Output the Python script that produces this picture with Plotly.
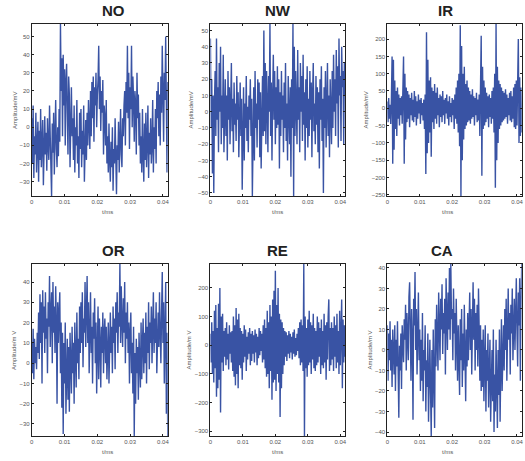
import plotly.graph_objects as go

fs = 4800  # samples per second

names = ["NO", "NW", "IR", "OR", "RE", "CA"]

no = [5, -20, 12, -28, -5, -15, 8, -25, -10, 3, -30, -2, -18, 10, -22, -8, 4, -32, -12, 6,
      -15, -3, -24, 5, -10, -18, 12, -6, -20, -38, 2, -14, 8, -26, -4, 15, -12, -22, 0, -16,
      10, -8, 57, 20, 38, -5, 40, 12, 32, -10, 25, 35, 8, -15, 28, 18, -22, 10, 22, -5,
      5, -18, 12, -25, 0, -10, 15, -20, -5, -28, 8, -12, 10, -22, -2, -15, 12, -30, -6, 4,
      -18, 8, -10, 15, 2, -12, 20, -5, 25, 5, 28, -8, 22, 12, 30, 0, 18, 26, 45, 10,
      28, -2, 20, 8, 26, -15, 12, 5, -10, 15, -20, -5, -25, 2, -18, -30, -8, -22, 0, -35,
      -12, -20, 5, -28, -37, -10, -18, 3, -25, -8, 10, -15, -22, 5, -5, 12, 20, -10, 25, 8,
      45, 5, 30, -12, 22, 10, 45, 0, 28, 15, -8, 20, 12, -15, 30, 5, 18, -10, 8, -20,
      -5, -25, 10, -15, -30, 2, -18, 8, -22, -8, 12, -28, -3, -15, 5, -20, -10, 15, -25, 0,
      -12, 10, -20, 20, 5, 25, -5, 18, -10, 28, 8, 45, 12, -8, 30, 15, 50, 20, -25, 25]

nw = [45, -10, 20, -38, 10, -50, 5, 25, -15, 45, -5, 15, -25, 30, 0, 40, -20, 10, -10, 35,
      -25, 5, 20, -15, 10, -30, 25, -5, 15, -20, 0, 30, -12, 8, -25, 18, -8, 5, -18, 22,
      -5, 12, -28, 2, 18, -15, 8, -48, 0, 15, -30, 5, -10, 22, -18, 3, -25, 10, -5, 20,
      -15, 8, -52, -20, 15, -30, 25, -10, 5, -22, 20, -5, 18, -28, 12, -35, 2, 22, -15, 50,
      -12, 30, -20, 25, 5, -25, 22, 0, 54, -15, 18, -30, 10, 35, -5, 25, -20, 15, -10, 28,
      -8, 20, -35, 12, -15, 25, -5, 10, -25, 18, -10, 30, -18, 5, -30, 22, 0, -20, 15, -40,
      20, -10, 54, -52, 40, -15, 25, 5, -20, 38, -5, 15, -25, 30, 0, 22, -18, 35, -8, 12,
      -30, 20, -10, 28, -22, 8, -15, 25, -5, 18, -28, 10, 30, -12, 5, -20, 22, -8, 15, -25,
      12, -35, 20, -5, 28, -18, 8, -50, 15, -10, 25, -22, 5, 30, -15, 10, -28, 20, 0, -20,
      25, -10, 35, 0, 20, -15, 38, 5, 28, -22, 45, 10, 22, -18, 40, 15, 25, -20, 30, 10]

ir = [20, -40, 30, -30, 10, -45, 25, 150, -160, 140, -120, 80, -60, 50, -80, 60, -30, 40, -50, 30,
      -20, 35, -45, 60, 150, -160, 100, -90, 60, -40, 50, -30, 40, -55, 30, -20, 45, -35, 25, -40,
      50, -25, 35, -50, 20, -30, 40, -15, 25, -45, 30, -20, 15, -35, 25, -60, 40, -190, 220, -130,
      140, -100, 80, -70, 90, -140, 60, -40, 50, -60, 70, -30, 45, -45, 60, -20, 30, -55, 40, -25,
      35, -40, 50, -20, 25, -45, 30, -15, 40, -30, 20, -50, 35, -25, 15, -40, 30, -20, 25, -60,
      40, -30, 60, -45, 80, -70, 100, -110, 240, -254, 180, -150, 100, -90, 120, -60, 70, -50, 80, -40,
      60, -35, 50, -45, 40, -30, 55, -25, 35, -50, 30, -20, 45, -40, 25, -35, 40, -80, 100, 210,
      -195, 120, -60, 80, -50, 60, -40, 45, -30, 35, -55, 40, -25, 30, -45, 50, -30, 60, -70, 100,
      -230, 244, -150, 120, -100, 80, -60, 70, -50, 60, -40, 50, -35, 45, -30, 55, -25, 40, -45, 30,
      -20, 45, -35, 50, -40, 35, -30, 60, -55, 70, -60, 80, -50, 120, 200, -100, 90, -80, 60, -70]

orr = [10, -5, 17, -8, 12, 0, 8, -3, 15, 5, 25, 2, 34, 10, 30, -10, 36, 15, 28, 5,
       35, 12, 22, -5, 30, 18, 43, 8, 25, 35, 0, 40, 15, 28, 5, 38, 20, -20, 30, 10,
       25, 35, -5, 20, -22, 15, -35, 10, -10, 20, -25, 5, 12, -18, 8, -24, 15, 0, -15, 18,
       -5, 10, -20, 20, 3, -12, 25, 0, 12, -8, 28, 5, 30, 10, 35, -2, 22, 15, 40, 8,
       25, 43, 10, 30, -5, 20, 35, 5, 18, -10, 25, 12, 32, 0, 20, -15, 15, 28, -8, 22,
       10, -12, 18, 5, 25, -5, 15, 22, 0, 18, -8, 12, 20, -10, 15, 25, 5, 18, -5, 28,
       10, 22, -3, 30, 15, 35, 5, 25, 18, 49, 10, 38, 20, 8, 32, 15, 40, 0, 25, 12,
       30, 5, 20, -10, 15, 25, -5, 10, -15, 18, -36, 5, -20, 12, -5, 8, -18, 15, 0, -12,
       20, -8, 10, 22, -5, 15, 0, 25, -10, 18, 5, 30, -3, 20, 10, 28, 0, 15, 35, 5,
       22, 10, 30, -5, 18, 25, 8, 35, 15, 0, 25, 45, 10, 30, -10, 20, 40, -25, 15, -36]

re = [40, -60, 80, -100, 50, -130, 120, -80, 140, -180, 60, -150, 145, -120, 200, -235, 100, -60, 110, -90,
      50, -40, 60, -70, 80, -50, 40, -85, 70, -30, 45, -60, 50, -90, 100, -110, 70, -140, 130, -100,
      90, -150, 110, -70, 60, -80, 50, -120, 40, -60, 70, -40, 55, -90, 30, -50, 45, -30, 60, -70,
      40, -55, 50, -30, 35, -60, 55, -25, 40, -70, 30, -45, 60, -35, 50, -20, 40, -60, 70, -50,
      90, -80, 60, -110, 120, -100, 80, -150, 140, -90, 100, -190, 160, -130, 190, -120, 260, -160, 140, -100,
      200, -130, 110, -250, 90, -150, 80, -100, 60, -70, 50, -40, 45, -55, 35, -30, 50, -45, 40, -25,
      30, -50, 45, -30, 55, -40, 25, -35, 40, -20, 60, -45, 80, -70, 90, -60, 70, -90, 284, -317,
      100, -80, 60, -110, 90, -70, 120, -60, 80, -100, 70, -50, 110, -80, 60, -90, 50, -70, 100, -60,
      80, -40, 60, -100, 90, -70, 50, -80, 110, -60, 70, -120, 80, -50, 100, 160, -90, 60, -70, 80,
      -50, 60, -90, 100, -40, 70, -80, 110, -60, 50, -100, 120, -70, 80, 160, -150, 90, -60, 70, -40]

ca = [12, -15, 8, -5, 14, -10, 5, -18, 10, 0, -12, 12, -20, 5, -8, 14, -15, -33, 2, -10,
      8, -19, 12, 0, -6, 15, 5, 22, -10, 18, 8, -5, 26, 33, 10, -15, 20, 5, -34, 25,
      12, 38, 0, 20, -12, 15, 28, -5, 10, -20, 5, -15, 18, -25, 0, -10, 12, -30, -5, -18,
      8, -35, -12, 5, -20, -42, 0, -28, 10, -15, -38, 15, -8, 22, 5, -10, 28, 12, -5, 25,
      10, 32, -2, 18, 8, 25, -12, 35, 15, 0, 28, 10, 40, 5, 42, 15, 20, -5, 30, 8,
      18, -10, 25, 5, -15, 12, 0, -22, 15, -5, 20, -18, 8, -10, 22, 2, -25, 10, -8, 18,
      -5, 12, 28, 0, 20, -12, 15, 33, 5, 25, -10, 18, 0, 22, -8, 30, 10, -15, 12, -20,
      5, -18, 10, -25, -5, 12, -30, 0, -15, 8, -28, -10, 5, -35, -20, 0, -25, 10, -40, -12,
      -30, 5, -18, -38, 0, -22, 10, -35, -8, 15, -20, 5, 12, -10, 20, 0, 25, -15, 15, 30,
      5, 18, -12, 22, 8, 30, -5, 15, 25, 0, 20, 35, 10, -8, 28, 12, 35, -15, 20, 42]

series = [no, nw, ir, orr, re, ca]

x_ticks = [0, 0.01, 0.02, 0.03, 0.04]
x_ticktext = ["0", "0.01", "0.02", "0.03", "0.04"]
y_ticks = [
    [-30, -20, -10, 0, 10, 20, 30, 40, 50],
    [-50, -40, -30, -20, -10, 0, 10, 20, 30, 40, 50],
    [-250, -200, -150, -100, -50, 0, 50, 100, 150, 200],
    [-30, -20, -10, 0, 10, 20, 30, 40],
    [-300, -200, -100, 0, 100, 200],
    [-40, -30, -20, -10, 0, 10, 20, 30, 40],
]
y_labels = ["Amplitude/mV", "Amplitude/mV", "Amplitude/mV",
            "Amplitude/m V", "Amplitude/m V", "Amplitude/m V"]

W, H = 525, 461
col_px = [(30, 167), (210, 345.7), (388.3, 523.7)]
row_px = [(24, 197), (265, 438)]
ylab_off = [17, 20, 21, 18, 22, 18]

blue = "#3953A4"
fig = go.Figure()
annotations = []

for i, (name, y) in enumerate(zip(names, series)):
    r, c = divmod(i, 3)
    t = [k / fs for k in range(len(y))]
    xa = "x" if i == 0 else "x%d" % (i + 1)
    ya = "y" if i == 0 else "y%d" % (i + 1)
    fig.add_trace(go.Scatter(x=t, y=y, mode="lines", xaxis=xa, yaxis=ya,
                             line=dict(color=blue, width=1.4), showlegend=False))
    x0, x1 = col_px[c]
    top, bot = row_px[r]
    common = dict(showline=True, linecolor="#222", linewidth=1, mirror="ticks",
                  ticks="inside", ticklen=2, tickcolor="#222", showgrid=False,
                  zeroline=False, ticklabeloverflow="allow",
                  tickfont=dict(family="Liberation Sans", size=6, color="#555"))
    fig.layout["xaxis" + ("" if i == 0 else str(i + 1))] = dict(
        domain=[x0 / W, x1 / W], anchor=ya, range=[0, t[-1]],
        tickvals=x_ticks, ticktext=x_ticktext, **common)
    fig.layout["yaxis" + ("" if i == 0 else str(i + 1))] = dict(
        domain=[1 - bot / H, 1 - top / H], anchor=xa, range=[min(y), max(y)],
        tickvals=y_ticks[i], **common)
    cx = (x0 + x1) / 2
    annotations.append(dict(text="<b>%s</b>" % name, x=cx / W, y=1 - (top - 13.5) / H,
                            xref="paper", yref="paper", showarrow=False, yanchor="middle",
                            font=dict(family="Liberation Sans", size=15, color="#222")))
    annotations.append(dict(text="t/ms", x=cx / W, y=1 - (bot + 15.5) / H,
                            xref="paper", yref="paper", showarrow=False, yanchor="middle",
                            font=dict(family="Liberation Sans", size=6, color="#555")))
    annotations.append(dict(text=y_labels[i], x=(x0 - ylab_off[i]) / W, y=1 - (top + bot) / 2 / H,
                            xref="paper", yref="paper", showarrow=False, textangle=-90,
                            xanchor="center", yanchor="middle",
                            font=dict(family="Liberation Sans", size=6, color="#555")))

fig.update_layout(width=W, height=H, margin=dict(l=0, r=0, t=0, b=0),
                  paper_bgcolor="white", plot_bgcolor="white", annotations=annotations)

# the page body has an 8px default margin; drop it so the figure sits at the corner
fig.write_html("out.html", config={"displayModeBar": False},
               post_script="document.body.style.margin='0';")
